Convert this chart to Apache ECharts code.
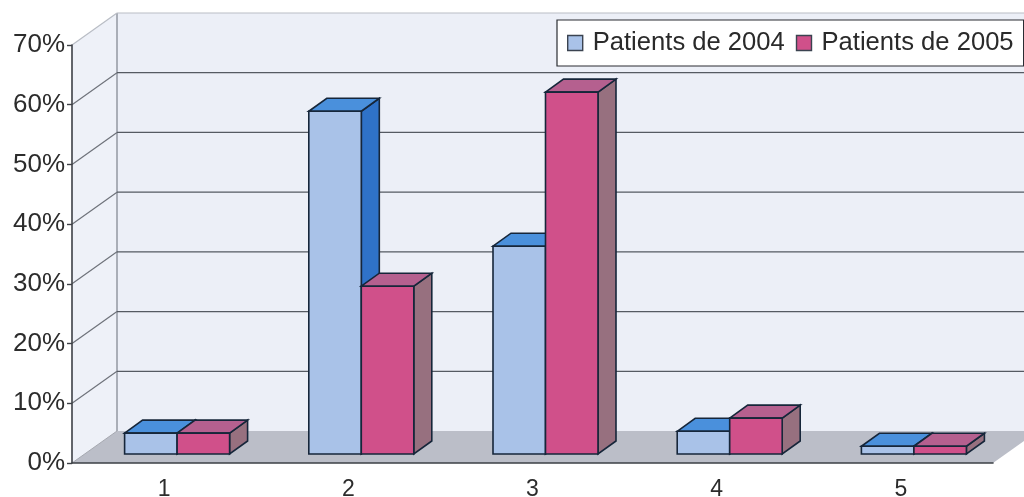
<!DOCTYPE html>
<html>
<head>
<meta charset="utf-8">
<style>html,body{margin:0;padding:0;background:#fff}#c{width:1024px;height:497px}</style>
<script src="https://cdn.jsdelivr.net/npm/echarts@6/dist/echarts.min.js"></script>
</head>
<body>
<div id="c"></div>
<script>
const categories = ['1', '2', '3', '4', '5'];
const patients2004 = [3.5, 57.4, 34.8, 3.8, 1.3];
const patients2005 = [3.5, 28.1, 60.6, 6.0, 1.3];
const yTicks = [0, 10, 20, 30, 40, 50, 60, 70];

const FONT = '"Liberation Sans", Arial, sans-serif';
const WALL_DX = 45, WALL_DY = -32;       // full chart depth
const BAR_DX = 13, BAR_DY = -9;          // bar gap from the front edge
const DEPTH_DX = 18, DEPTH_DY = -13;     // bar depth
const BAR_RATIO = 0.285;
const OUTLINE = '#16263a';

function poly(points, fill, stroke, lineWidth) {
  return {
    type: 'polygon',
    shape: { points },
    style: { fill, stroke: stroke || null, lineWidth: lineWidth || 0 }
  };
}

function wallRender(params, api) {
  const c = params.coordSys;
  const L = c.x, R = c.x + c.width, T = c.y, B = c.y + c.height;
  return {
    type: 'group',
    children: [
      poly([[L + WALL_DX, T + WALL_DY], [R + WALL_DX, T + WALL_DY], [R + WALL_DX, B + WALL_DY], [L + WALL_DX, B + WALL_DY]], '#ecEff7'),
      poly([[L, T], [L + WALL_DX, T + WALL_DY], [L + WALL_DX, B + WALL_DY], [L, B]], '#eef1f8'),
      poly([[L, B], [L + WALL_DX, B + WALL_DY], [R + WALL_DX, B + WALL_DY], [R, B]], '#bbbec8'),
      { type: 'line', shape: { x1: L + WALL_DX, y1: T + WALL_DY, x2: L + WALL_DX, y2: B + WALL_DY },
        style: { stroke: '#7d828c', lineWidth: 1.2 } }
    ]
  };
}

function tickRender(params, api) {
  const v = api.value(0);
  const p = api.coord([0, v]);
  const c = params.coordSys;
  if (v === 0) {
    return { type: 'line', shape: { x1: c.x, y1: p[1], x2: c.x + WALL_DX, y2: p[1] + WALL_DY },
      style: { stroke: '#a5a8b0', lineWidth: 1 } };
  }
  const top = v === 70;
  const stroke = top ? '#b9bdc5' : '#555a62';
  return {
    type: 'group',
    children: [
      { type: 'line', shape: { x1: c.x, y1: p[1], x2: c.x + WALL_DX, y2: p[1] + WALL_DY },
        style: { stroke: top ? '#b9bdc5' : '#6f737b', lineWidth: 1.2 } },
      { type: 'line', shape: { x1: c.x + WALL_DX, y1: p[1] + WALL_DY, x2: c.x + c.width + WALL_DX, y2: p[1] + WALL_DY },
        style: { stroke, lineWidth: 1.2 } }
    ]
  };
}

function barRenderer(side, front, right, topFace) {
  return function (params, api) {
    const cat = api.value(0), val = api.value(1);
    const band = api.size([1, 0])[0];
    const w = band * BAR_RATIO;
    const base = api.coord([cat, 0]);
    const tip = api.coord([cat, val]);
    const x0 = base[0] + BAR_DX + (side < 0 ? -w : 0);
    const x1 = x0 + w;
    const yb = base[1] + BAR_DY;
    const yt = tip[1] + BAR_DY;
    return {
      type: 'group',
      children: [
        poly([[x1, yt], [x1 + DEPTH_DX, yt + DEPTH_DY], [x1 + DEPTH_DX, yb + DEPTH_DY], [x1, yb]], right, OUTLINE, 1.6),
        poly([[x0, yt], [x0 + DEPTH_DX, yt + DEPTH_DY], [x1 + DEPTH_DX, yt + DEPTH_DY], [x1, yt]], topFace, OUTLINE, 1.6),
        poly([[x0, yt], [x1, yt], [x1, yb], [x0, yb]], front, OUTLINE, 1.6)
      ]
    };
  };
}

const chart = echarts.init(document.getElementById('c'), null, { renderer: 'canvas' });
chart.setOption({
  animation: false,
  backgroundColor: '#ffffff',
  textStyle: { fontFamily: FONT },
  grid: { left: 72, right: 31, top: 45, bottom: 34, outerBoundsMode: 'none' },
  legend: {
    data: ['Patients de 2004', 'Patients de 2005'],
    left: 557, top: 20,
    orient: 'horizontal',
    backgroundColor: '#ffffff',
    borderColor: '#2a2d33', borderWidth: 1.2, borderRadius: 0,
    padding: [10, 10, 10, 10],
    itemWidth: 15, itemHeight: 15, itemGap: 11,
    icon: 'rect',
    itemStyle: { borderColor: '#3b4350', borderWidth: 1.4 },
    textStyle: { fontFamily: FONT, fontSize: 25.6, color: '#2a2a2a', padding: [0, 0, 0, 5] }
  },
  xAxis: {
    type: 'category',
    data: categories,
    boundaryGap: true,
    axisLine: { lineStyle: { color: '#3d4046', width: 1.6 } },
    axisTick: { alignWithLabel: false, length: 5, lineStyle: { color: '#3d4046', width: 1.4 } },
    axisLabel: { fontFamily: FONT, fontSize: 23, color: '#2c2c2c', margin: 15 },
    splitLine: { show: false }
  },
  yAxis: {
    type: 'value',
    min: 0, max: 70, interval: 10,
    axisLine: { show: true, lineStyle: { color: '#3d4046', width: 1.6 } },
    axisTick: { show: true, length: 5, lineStyle: { color: '#3d4046', width: 1.4 } },
    axisLabel: { fontFamily: FONT, fontSize: 26, color: '#2c2c2c', margin: 7, formatter: '{value}%' },
    splitLine: { show: false }
  },
  series: [
    { type: 'custom', name: 'walls', z: -2, silent: true, renderItem: wallRender, data: [[0]], encode: { y: 0 } },
    { type: 'custom', name: 'gridlines', z: -1, silent: true, renderItem: tickRender,
      data: yTicks.map(t => [t]), encode: { y: 0 } },
    { type: 'custom', name: 'Patients de 2004', z: 2,
      itemStyle: { color: '#a9c2e8' },
      renderItem: barRenderer(-1, '#a9c2e8', '#2f72c8', '#4a90dc'),
      data: patients2004.map((v, i) => [i, v]), encode: { x: 0, y: 1 } },
    { type: 'custom', name: 'Patients de 2005', z: 3,
      itemStyle: { color: '#d0508a' },
      renderItem: barRenderer(1, '#d0508a', '#97707f', '#b5608f'),
      data: patients2005.map((v, i) => [i, v]), encode: { x: 0, y: 1 } }
  ]
});
</script>
</body>
</html>
